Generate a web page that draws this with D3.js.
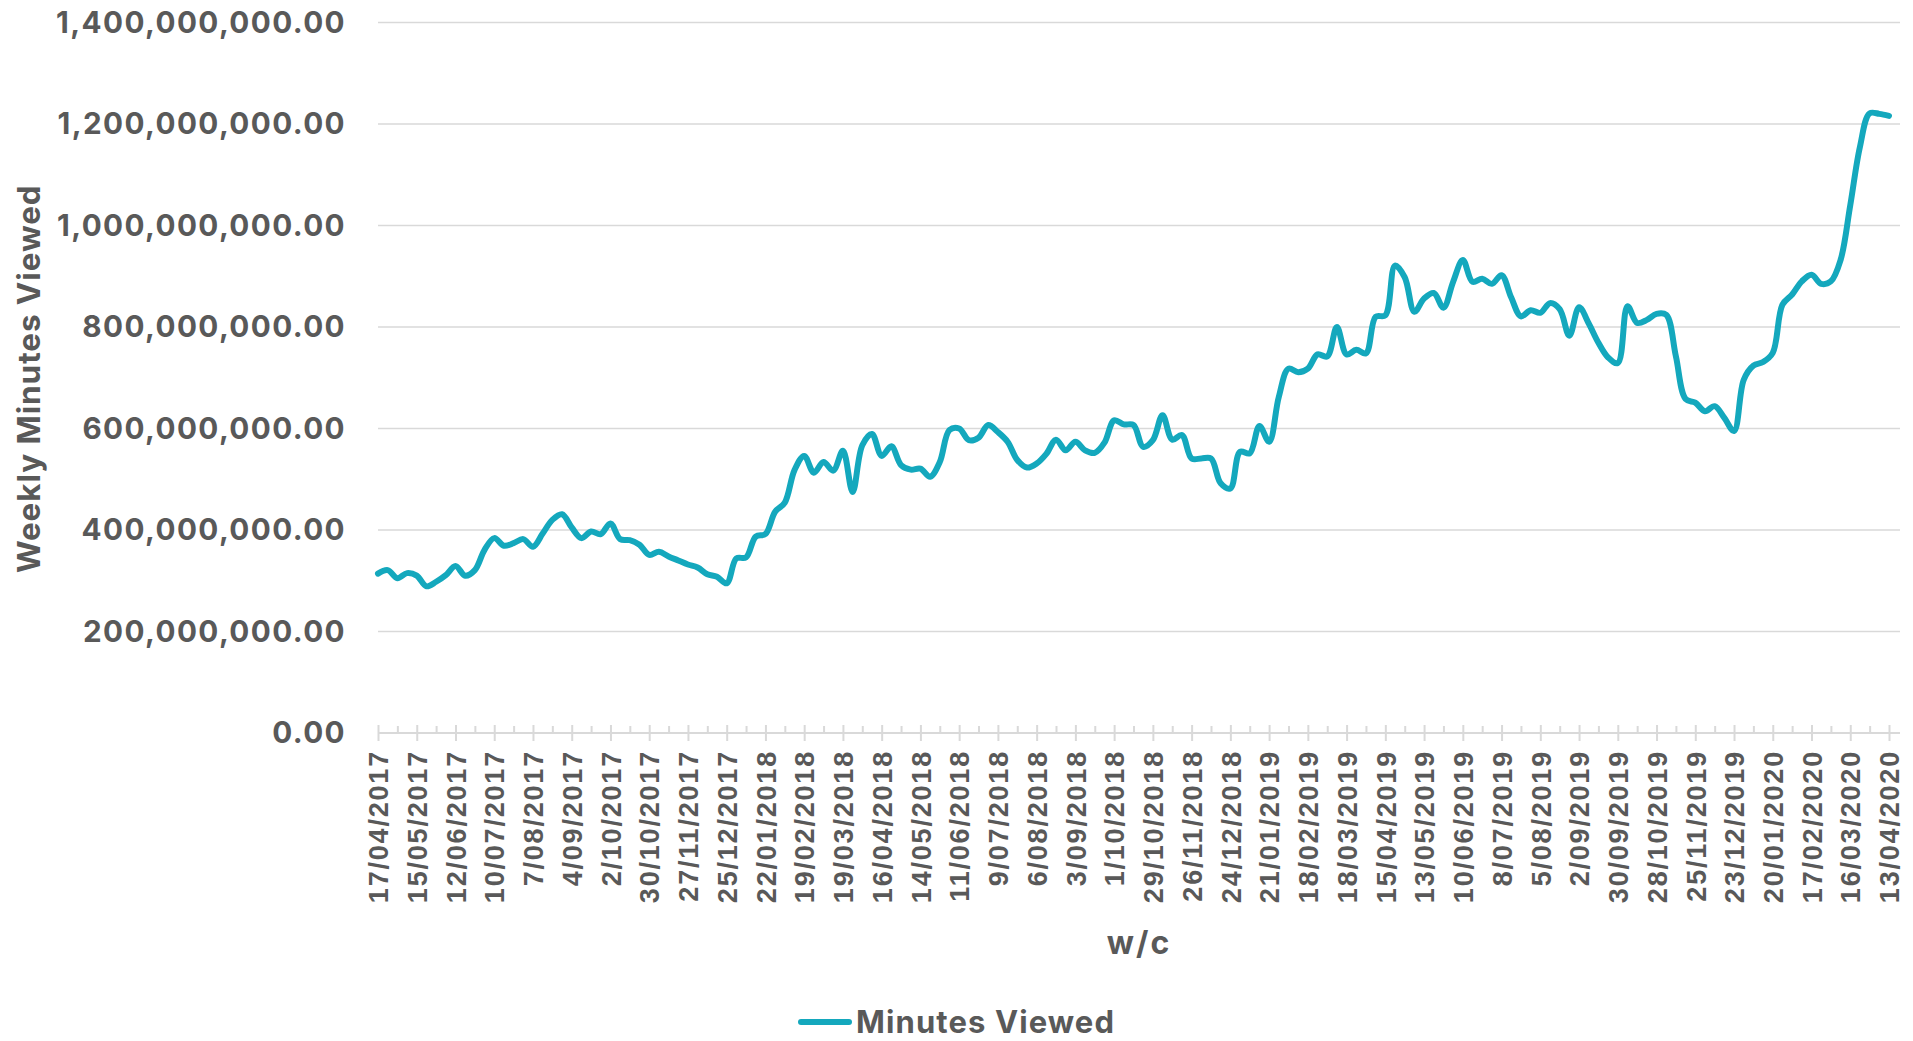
<!DOCTYPE html>
<html lang="en">
<head>
<meta charset="utf-8">
<script src="https://cdn.jsdelivr.net/npm/d3@7"></script>
<style>
  body { margin: 0; background: #fff; }
  svg { display: block; font-family: Inter, "Open Sans", sans-serif; font-weight: 700; }
  .grid line { stroke: #d9d9d9; stroke-width: 1.5; }
  .axis text { fill: #595959; }
</style>
</head>
<body>
<div id="chart"></div>
<script>
// week starting dates, one point per week
var firstWeek = "17/04/2017";

// weekly minutes viewed, millions
var minutesViewed = [
  314, 321, 305, 315, 310, 289, 298, 311, 329, 310,
  321, 361, 384, 369, 374, 382, 367, 393, 420, 431,
  405, 384, 397, 392, 413, 382, 380, 371, 351, 357,
  348, 340, 332, 326, 313, 308, 295, 344, 346, 387,
  392, 436, 454, 518, 546, 513, 534, 517, 556, 475,
  567, 589, 546, 565, 528, 519, 521, 505, 534, 597,
  600, 577, 582, 607, 593, 574, 538, 523, 531, 550,
  578, 557, 574, 557, 552, 572, 616, 608, 607, 564,
  577, 626, 578, 587, 541, 541, 541, 492, 482, 554,
  551, 605, 574, 662, 718, 711, 718, 746, 742, 800,
  746, 755, 748, 820, 823, 921, 898, 830, 856, 867,
  838, 889, 932, 889, 895, 885, 902, 858, 821, 833,
  828, 847, 835, 783, 839, 807, 769, 740, 729, 841,
  808, 814, 826, 824, 742, 658, 651, 634, 644, 621,
  595, 696, 724, 731, 749, 844, 864, 890, 903, 885,
  890, 932, 1040, 1155, 1221, 1220, 1216
];

var tickLabels = [
  "17/04/2017", "15/05/2017", "12/06/2017", "10/07/2017", "7/08/2017",
  "4/09/2017", "2/10/2017", "30/10/2017", "27/11/2017", "25/12/2017",
  "22/01/2018", "19/02/2018", "19/03/2018", "16/04/2018", "14/05/2018",
  "11/06/2018", "9/07/2018", "6/08/2018", "3/09/2018", "1/10/2018",
  "29/10/2018", "26/11/2018", "24/12/2018", "21/01/2019", "18/02/2019",
  "18/03/2019", "15/04/2019", "13/05/2019", "10/06/2019", "8/07/2019",
  "5/08/2019", "2/09/2019", "30/09/2019", "28/10/2019", "25/11/2019",
  "23/12/2019", "20/01/2020", "17/02/2020", "16/03/2020", "13/04/2020"
];

var yTicks = [0, 200e6, 400e6, 600e6, 800e6, 1000e6, 1200e6, 1400e6];

var W = 1913, H = 1041;
var plotLeft = 378, plotRight = 1889, gridRight = 1900, plotTop = 22.5, plotBottom = 733;
var lineColor = "#14a8bd", textColor = "#595959";

var parse = d3.utcParse("%d/%m/%Y");
var start = parse(firstWeek);
var data = minutesViewed.map(function(v, i) {
  return { date: d3.utcDay.offset(start, 7 * i), value: v * 1e6 };
});
var labelDates = tickLabels.map(parse);
var minorDates = labelDates.slice(0, -1).map(function(d) { return d3.utcDay.offset(d, 14); });

var svg = d3.select("#chart").append("svg")
  .attr("width", W)
  .attr("height", H);

var x = d3.scaleUtc()
  .domain([data[0].date, data[data.length - 1].date])
  .range([plotLeft, plotRight]);

var y = d3.scaleLinear()
  .domain([0, 1400e6])
  .range([plotBottom, plotTop]);

// gridlines
svg.append("g")
  .attr("class", "grid")
  .selectAll("line")
  .data(yTicks.slice(1))
  .enter().append("line")
    .attr("x1", plotLeft)
    .attr("x2", gridRight)
    .attr("y1", function(d) { return y(d); })
    .attr("y2", function(d) { return y(d); });

// y axis labels
var yAxis = svg.append("g")
  .attr("class", "axis")
  .attr("transform", "translate(" + plotLeft + ",0)")
  .call(d3.axisLeft(y).tickValues(yTicks).tickFormat(d3.format(",.2f")).tickSize(0).tickPadding(32));
yAxis.select(".domain").remove();
yAxis.selectAll("text")
  .style("font-size", "29.7px")
  .style("font-family", "Inter")
  .style("letter-spacing", "1.4px")
  .attr("fill", textColor);

// x axis: major ticks cross the line, minor ticks inside
var xAxis = svg.append("g")
  .attr("class", "axis")
  .attr("transform", "translate(0," + plotBottom + ")")
  .call(d3.axisBottom(x).tickValues(labelDates).tickFormat(function(d, i) { return tickLabels[i]; }).tickSizeOuter(0));
xAxis.select(".domain")
  .attr("d", "M" + plotLeft + ",0H" + gridRight)
  .attr("stroke", "#d9d9d9")
  .attr("stroke-width", 2);
xAxis.selectAll(".tick line")
  .attr("stroke", "#d9d9d9")
  .attr("stroke-width", 2)
  .attr("y1", -8)
  .attr("y2", 8);
xAxis.selectAll(".tick text")
  .attr("transform", "rotate(-90)")
  .attr("x", -17)
  .attr("y", 0)
  .attr("dy", "0.36em")
  .style("text-anchor", "end")
  .style("font-size", "27px")
  .style("letter-spacing", "1.8px")
  .attr("fill", textColor);

var minor = svg.append("g")
  .attr("transform", "translate(0," + plotBottom + ")")
  .call(d3.axisBottom(x).tickValues(minorDates).tickFormat("").tickSize(-7));
minor.select(".domain").remove();
minor.selectAll(".tick line")
  .attr("stroke", "#d9d9d9")
  .attr("stroke-width", 2);

// the series
var line = d3.line()
  .x(function(d) { return x(d.date); })
  .y(function(d) { return y(d.value); })
  .curve(d3.curveCatmullRom.alpha(0.5));

svg.append("path")
  .datum(data)
  .attr("fill", "none")
  .attr("stroke", lineColor)
  .attr("stroke-width", 6)
  .attr("stroke-linejoin", "round")
  .attr("stroke-linecap", "round")
  .attr("d", line);

// axis titles
svg.append("text")
  .attr("transform", "translate(40," + ((plotTop + plotBottom) / 2 + 1) + ") rotate(-90)")
  .attr("text-anchor", "middle")
  .attr("fill", textColor)
  .style("font-size", "31.5px")
  .style("letter-spacing", "0.9px")
  .text("Weekly Minutes Viewed");

svg.append("text")
  .attr("x", 1139)
  .attr("y", 954)
  .attr("text-anchor", "middle")
  .attr("fill", textColor)
  .style("font-size", "32px")
  .style("letter-spacing", "2px")
  .text("w/c");

// legend
var legend = svg.append("g");
legend.append("line")
  .attr("x1", 801).attr("x2", 849)
  .attr("y1", 1022).attr("y2", 1022)
  .attr("stroke", lineColor)
  .attr("stroke-width", 6)
  .attr("stroke-linecap", "round");
legend.append("text")
  .attr("x", 856)
  .attr("y", 1033)
  .attr("fill", textColor)
  .style("font-size", "31px")
  .style("letter-spacing", "1.1px")
  .text("Minutes Viewed");
</script>
</body>
</html>
